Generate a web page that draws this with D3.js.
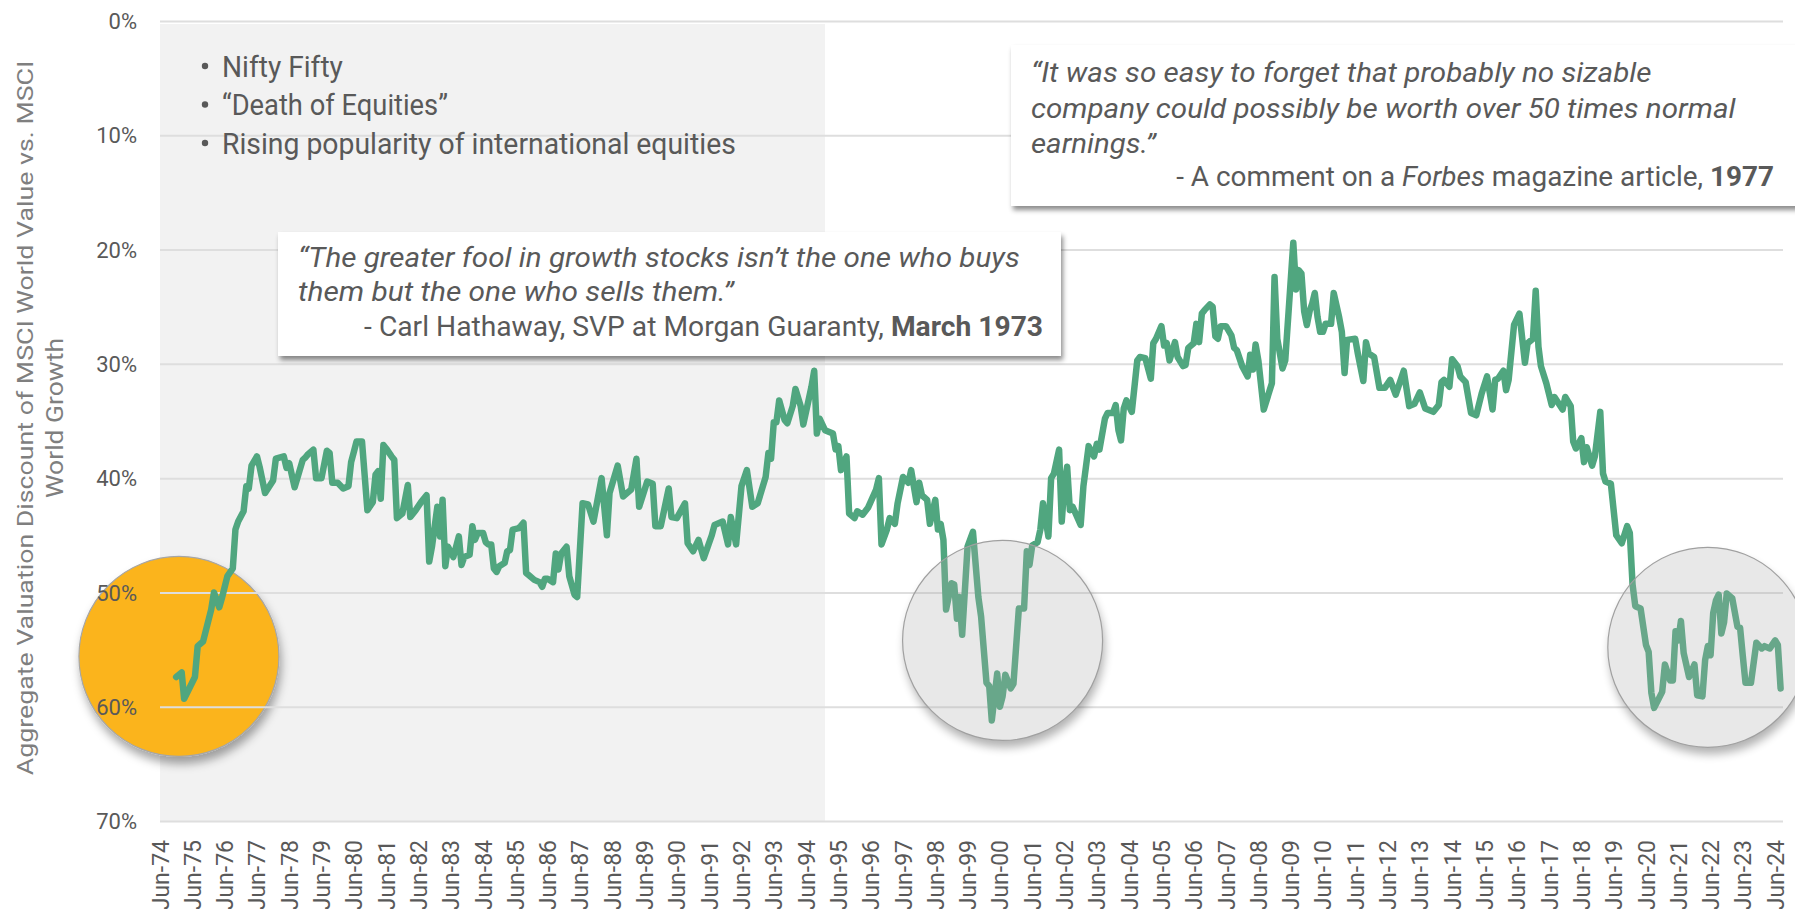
<!DOCTYPE html>
<html>
<head>
<meta charset="utf-8">
<script src="https://d3js.org/d3.v7.min.js"></script>
<style>
  body { margin: 0; background: #fff; }
  svg { display: block; font-family: Roboto, "Noto Sans", sans-serif; }
</style>
</head>
<body>
<script>
// y ticks (percent discount, axis is reversed: 0% at top)
var yTicks = [0, 10, 20, 30, 40, 50, 60, 70];
// x ticks: June of every year
var xTickYears = d3.range(1974, 2025);

// aggregate valuation discount, value vs growth
var discount = [
["1974-12",57.4],["1975-02",57.0],["1975-03",59.3],["1975-07",57.4],["1975-08",54.7],["1975-10",54.3],
["1976-01",51.5],["1976-02",50.0],["1976-04",51.3],["1976-05",50.5],["1976-07",48.6],["1976-09",47.9],["1976-10",44.5],["1976-11",43.8],
["1977-01",42.9],["1977-02",40.7],["1977-03",40.9],["1977-04",38.9],["1977-06",38.1],["1977-07",39.0],["1977-09",41.3],["1977-12",40.2],
["1978-01",38.3],["1978-04",38.1],["1978-05",39.1],["1978-06",38.7],["1978-08",40.8],["1978-09",40.0],["1978-11",38.4],["1978-12",38.2],
["1979-01",37.9],["1979-03",37.5],["1979-04",40.0],["1979-06",40.0],["1979-08",37.6],["1979-09",37.8],["1979-10",40.4],["1979-12",40.4],
["1980-02",40.9],["1980-04",40.7],["1980-05",38.6],["1980-06",37.7],["1980-07",36.8],["1980-09",36.8],["1980-11",42.8],
["1981-01",42.1],["1981-02",39.7],["1981-03",39.4],["1981-04",41.8],["1981-05",37.1],["1981-06",37.4],["1981-08",38.1],["1981-09",38.4],["1981-10",43.5],["1981-12",43.1],
["1982-02",40.6],["1982-03",43.4],["1982-05",42.8],["1982-07",42.1],["1982-09",41.5],["1982-10",47.3],["1982-11",46.0],
["1983-01",42.5],["1983-02",45.1],["1983-03",41.9],["1983-04",47.7],["1983-05",46.0],["1983-07",46.9],["1983-09",45.1],["1983-10",47.6],["1983-11",46.9],
["1984-01",46.7],["1984-02",44.2],["1984-03",45.4],["1984-04",44.8],["1984-06",44.8],["1984-07",45.6],["1984-08",45.8],["1984-09",45.8],["1984-10",47.9],["1984-11",48.2],["1984-12",47.7],
["1985-02",47.4],["1985-03",46.4],["1985-04",46.3],["1985-05",44.5],["1985-07",44.4],["1985-08",44.2],["1985-09",43.9],["1985-10",48.3],["1985-11",48.5],
["1986-01",48.9],["1986-03",49.1],["1986-04",49.5],["1986-05",48.8],["1986-06",48.8],["1986-08",49.1],["1986-09",46.6],["1986-10",48.0],["1986-11",46.6],
["1987-01",46.0],["1987-02",48.6],["1987-04",50.2],["1987-05",50.4],["1987-07",42.2],["1987-09",42.3],["1987-11",43.8],
["1988-02",40.0],["1988-04",45.0],["1988-05",41.3],["1988-08",38.9],["1988-10",41.6],
["1989-01",41.0],["1989-03",38.3],["1989-04",42.5],["1989-07",40.3],["1989-09",40.5],["1989-10",44.2],["1989-12",44.2],
["1990-03",40.9],["1990-04",43.4],["1990-06",43.5],["1990-09",42.2],["1990-10",45.7],["1990-12",46.4],
["1991-02",45.4],["1991-04",47.0],["1991-07",45.0],["1991-08",44.1],["1991-11",43.8],
["1992-01",45.8],["1992-02",43.4],["1992-04",45.8],["1992-06",40.7],["1992-08",39.3],["1992-10",42.5],["1992-12",42.2],
["1993-03",39.9],["1993-04",37.8],["1993-05",38.3],["1993-06",35.1],["1993-07",35.1],["1993-08",33.2],["1993-10",34.9],["1993-11",35.2],
["1994-01",33.7],["1994-02",32.2],["1994-04",33.7],["1994-05",35.3],["1994-08",32.0],["1994-09",30.6],["1994-10",36.1],["1994-11",34.8],
["1995-01",35.8],["1995-04",36.1],["1995-05",37.5],["1995-06",37.2],["1995-07",39.3],["1995-09",38.1],["1995-10",43.1],["1995-12",43.5],
["1996-01",42.9],["1996-03",43.2],["1996-05",42.6],["1996-08",41.0],["1996-09",40.0],["1996-10",45.8],["1996-12",44.5],
["1997-01",43.5],["1997-03",44.0],["1997-04",42.2],["1997-06",39.9],["1997-08",40.4],["1997-09",39.3],["1997-11",42.1],["1997-12",40.4],
["1998-01",41.5],["1998-03",41.9],["1998-04",44.0],["1998-06",41.9],["1998-07",44.5],["1998-08",44.0],["1998-09",45.4],["1998-10",51.5],["1998-12",49.2],
["1999-01",49.3],["1999-02",52.3],["1999-03",50.4],["1999-04",53.7],["1999-06",46.0],["1999-08",44.7],["1999-10",50.4],["1999-11",52.1],
["2000-01",57.9],["2000-02",58.2],["2000-03",61.2],["2000-05",57.1],["2000-06",60.0],["2000-07",59.1],["2000-08",57.2],["2000-10",58.4],["2000-11",58.0],
["2001-01",51.4],["2001-03",51.4],["2001-04",46.4],["2001-05",47.6],["2001-06",45.9],["2001-08",45.6],["2001-09",44.5],["2001-10",42.2],["2001-12",45.1],
["2002-01",40.0],["2002-02",39.6],["2002-04",37.5],["2002-05",43.8],["2002-06",40.5],["2002-07",39.0],["2002-08",42.8],["2002-09",42.5],["2002-12",44.1],
["2003-01",40.7],["2003-03",37.2],["2003-05",38.1],["2003-06",37.0],["2003-07",37.5],["2003-09",34.8],["2003-10",34.3],["2003-12",34.3],
["2004-01",33.6],["2004-02",35.8],["2004-03",36.7],["2004-04",33.9],["2004-05",33.2],["2004-07",34.2],["2004-09",29.7],["2004-10",29.4],["2004-12",29.5],
["2005-02",31.3],["2005-03",28.2],["2005-04",27.8],["2005-06",26.7],["2005-07",28.4],["2005-08",28.2],["2005-09",29.7],["2005-11",28.1],["2005-12",29.4],
["2006-02",30.2],["2006-03",30.1],["2006-04",28.6],["2006-06",28.2],["2006-07",26.5],["2006-08",28.1],["2006-09",25.6],["2006-10",25.3],["2006-12",24.8],
["2007-01",25.0],["2007-02",27.6],["2007-03",27.8],["2007-04",26.7],["2007-06",26.7],["2007-08",27.5],["2007-09",28.6],["2007-10",28.8],["2007-12",30.2],
["2008-02",31.1],["2008-03",29.2],["2008-04",30.5],["2008-05",28.3],["2008-06",29.7],["2008-08",34.0],["2008-11",31.7],["2008-12",22.4],
["2009-01",27.8],["2009-03",30.4],["2009-04",29.7],["2009-07",19.4],["2009-08",23.5],["2009-09",21.8],["2009-10",22.1],["2009-11",25.4],["2009-12",26.6],
["2010-01",25.4],["2010-02",24.7],["2010-03",23.8],["2010-04",25.9],["2010-05",27.2],["2010-06",27.2],["2010-07",26.5],["2010-09",26.5],["2010-10",23.8],["2010-12",25.9],
["2011-01",27.2],["2011-02",30.8],["2011-03",27.9],["2011-06",27.8],["2011-07",29.1],["2011-09",31.5],["2011-10",28.1],["2011-11",29.1],
["2012-01",29.4],["2012-03",32.1],["2012-05",32.1],["2012-07",31.4],["2012-09",32.7],["2012-12",30.6],
["2013-02",33.7],["2013-04",33.5],["2013-06",32.5],["2013-08",33.9],["2013-11",34.2],
["2014-01",33.6],["2014-02",31.6],["2014-03",31.4],["2014-05",32.0],["2014-06",29.6],["2014-08",30.2],["2014-09",31.1],["2014-11",31.6],
["2015-01",34.3],["2015-03",34.5],["2015-05",32.6],["2015-07",31.1],["2015-09",34.0],["2015-10",31.4],["2015-11",31.3],
["2016-01",30.6],["2016-02",32.3],["2016-03",31.4],["2016-05",26.6],["2016-07",25.6],["2016-09",29.9],["2016-10",28.2],["2016-12",27.8],
["2017-01",23.6],["2017-02",28.5],["2017-03",30.2],["2017-05",31.7],["2017-07",33.6],["2017-08",32.9],["2017-11",34.0],["2017-12",32.9],
["2018-02",33.7],["2018-03",36.8],["2018-04",37.4],["2018-06",36.5],["2018-07",38.6],["2018-08",37.3],["2018-10",38.9],["2018-11",38.1],
["2019-01",34.2],["2019-02",39.6],["2019-03",40.3],["2019-05",40.5],["2019-07",45.0],["2019-09",45.7],["2019-11",44.2],["2019-12",44.8],
["2020-01",49.3],["2020-02",51.2],["2020-04",51.4],["2020-06",54.6],["2020-07",55.2],["2020-08",58.8],["2020-09",60.1],["2020-12",58.7],
["2021-01",56.3],["2021-03",57.7],["2021-04",57.7],["2021-05",53.4],["2021-06",54.2],["2021-07",52.5],["2021-08",55.3],["2021-10",57.4],["2021-12",56.3],
["2022-01",59.0],["2022-03",59.1],["2022-04",55.9],["2022-05",54.7],["2022-06",55.5],["2022-07",51.8],["2022-08",50.7],["2022-09",50.2],["2022-10",53.6],["2022-11",52.6],["2022-12",50.1],
["2023-02",50.5],["2023-04",53.0],["2023-05",53.1],["2023-06",55.6],["2023-07",57.9],["2023-09",57.9],["2023-11",54.4],
["2024-01",54.9],["2024-02",54.7],["2024-04",54.9],["2024-06",54.2],["2024-07",54.6],["2024-08",58.4]
];

// shaded period and highlighted spots (date, discount)
var shadeEnd = "1995-01";
var highlights = [["1975-01", 55.6, "orange"], ["2000-07", 54.2, "grey"], ["2022-05", 54.8, "grey"]];

// annotation texts
var bullets = ["Nifty Fifty", "\u201CDeath of Equities\u201D", "Rising popularity of international equities"];
var quoteA = [
  [{t: "\u201CThe greater fool in growth stocks isn\u2019t the one who buys", i: 1}],
  [{t: "them but the one who sells them.\u201D", i: 1}],
  [{t: "- Carl Hathaway, SVP at Morgan Guaranty, "}, {t: "March 1973", b: 1}]
];
var quoteB = [
  [{t: "\u201CIt was so easy to forget that probably no sizable", i: 1}],
  [{t: "company could possibly be worth over 50 times normal", i: 1}],
  [{t: "earnings.\u201D", i: 1}],
  [{t: "- A comment on a "}, {t: "Forbes", i: 1}, {t: " magazine article, "}, {t: "1977", b: 1}]
];
var yTitle = ["Aggregate Valuation Discount of MSCI World Value vs. MSCI", "World Growth"];

var W = 1795, H = 909;
var left = 160, right = 1783;
var textColor = "#595959";

var parseMonth = d3.timeParse("%Y-%m");
var series = discount.map(function(d) { return {date: parseMonth(d[0]), v: d[1]}; });

var x = d3.scaleTime().domain([parseMonth("1974-06"), parseMonth("2024-08")]).range([left, 1780.6]);
var y = d3.scaleLinear().domain([0, 70]).range([21, 821]);

var svg = d3.select("body").append("svg").attr("width", W).attr("height", H);
var defs = svg.append("defs");

// shadows
var f1 = defs.append("filter").attr("id", "boxShadow").attr("x", "-10%").attr("y", "-20%").attr("width", "120%").attr("height", "150%");
f1.append("feDropShadow").attr("dx", 2).attr("dy", 4).attr("stdDeviation", 2.5).attr("flood-color", "#000").attr("flood-opacity", 0.45);
var f2 = defs.append("filter").attr("id", "circShadow").attr("x", "-30%").attr("y", "-30%").attr("width", "160%").attr("height", "160%");
f2.append("feDropShadow").attr("dx", 2).attr("dy", 7).attr("stdDeviation", 5).attr("flood-color", "#000").attr("flood-opacity", 0.35);
var f3 = defs.append("filter").attr("id", "blur").attr("x", "-30%").attr("y", "-30%").attr("width", "160%").attr("height", "160%");
f3.append("feGaussianBlur").attr("stdDeviation", 5);

// shaded period
svg.append("rect")
   .attr("x", x(parseMonth("1974-06")))
   .attr("y", y(0) + 3)
   .attr("width", x(parseMonth(shadeEnd)) - x(parseMonth("1974-06")))
   .attr("height", y(70) - y(0) - 3)
   .attr("fill", "#f2f2f2");

var R = 100;

// orange circle sits under the grid
highlights.filter(function(h) { return h[2] == "orange"; }).forEach(function(h) {
  svg.append("circle")
     .attr("cx", x(parseMonth(h[0]))).attr("cy", y(h[1])).attr("r", R)
     .attr("fill", "#fbb41d").attr("stroke", "#a6a6a6").attr("stroke-width", 1.2)
     .attr("filter", "url(#circShadow)");
});

// y axis + gridlines
var yAxis = svg.append("g")
   .attr("transform", "translate(" + left + ",0)")
   .call(d3.axisLeft(y).tickValues(yTicks).tickFormat(function(d) { return d + "%"; })
          .tickSize(-(right - left)).tickPadding(23));
yAxis.select(".domain").remove();
yAxis.selectAll(".tick line").attr("stroke", "#dedede").attr("stroke-width", 2);
yAxis.selectAll(".tick text").attr("fill", textColor).attr("font-size", 22).attr("font-family", "Roboto").attr("dy", "0.35em");

// x axis labels
var xAxis = svg.append("g")
   .attr("transform", "translate(0," + y(70) + ")")
   .call(d3.axisBottom(x).tickValues(xTickYears.map(function(yr) { return new Date(yr, 5, 1); }))
          .tickFormat(d3.timeFormat("%b-%y")).tickSize(0));
xAxis.select(".domain").remove();
xAxis.selectAll(".tick text")
   .attr("fill", textColor).attr("font-size", 23).attr("font-family", "Roboto")
   .attr("transform", "rotate(-90)")
   .attr("text-anchor", "end")
   .attr("x", -19).attr("y", 0).attr("dy", "0.35em");

// the series
var line = d3.line().x(function(d) { return x(d.date); }).y(function(d) { return y(d.v); });
svg.append("path")
   .datum(series)
   .attr("d", line)
   .attr("fill", "none")
   .attr("stroke", "#50a67f")
   .attr("stroke-width", 6.5)
   .attr("stroke-linejoin", "round")
   .attr("stroke-linecap", "round");

// translucent grey circles on top of the line
highlights.filter(function(h) { return h[2] == "grey"; }).forEach(function(h, i) {
  var cx = x(parseMonth(h[0])), cy = y(h[1]);
  var m = defs.append("mask").attr("id", "cm" + i).attr("maskUnits", "userSpaceOnUse")
              .attr("x", 0).attr("y", 0).attr("width", W).attr("height", H);
  m.append("rect").attr("width", W).attr("height", H).attr("fill", "#fff");
  m.append("circle").attr("cx", cx).attr("cy", cy).attr("r", R).attr("fill", "#000");
  svg.append("circle")
     .attr("cx", cx + 2).attr("cy", cy + 7).attr("r", R)
     .attr("fill", "#000").attr("opacity", 0.3)
     .attr("filter", "url(#blur)").attr("mask", "url(#cm" + i + ")");
  svg.append("circle")
     .attr("cx", cx).attr("cy", cy).attr("r", R)
     .attr("fill", "#aaaaaa").attr("fill-opacity", 0.27)
     .attr("stroke", "#a0a0a0").attr("stroke-width", 1.2);
});

// text line made of styled pieces, squeezed to a target width
function fitLine(g, segs, px, py, w, anchor, size, rotate) {
  var t = g.append("text")
           .attr("font-size", size).attr("fill", textColor)
           .attr("text-anchor", anchor).attr("dy", "0.35em");
  segs.forEach(function(s) {
    t.append("tspan").text(s.t)
     .attr("font-style", s.i ? "italic" : null)
     .attr("font-weight", s.b ? "bold" : null);
  });
  var k = w / t.node().getComputedTextLength();
  t.attr("transform", "translate(" + px + "," + py + ")" + (rotate ? " rotate(-90)" : "") + " scale(" + k + ",1)");
  return t;
}

// quote boxes
var boxA = svg.append("g");
boxA.append("rect").attr("x", 278).attr("y", 232).attr("width", 783).attr("height", 124)
    .attr("fill", "#fff").attr("filter", "url(#boxShadow)");
fitLine(boxA, quoteA[0], 298, 258, 722, "start", 27);
fitLine(boxA, quoteA[1], 298, 292, 436, "start", 27);
fitLine(boxA, quoteA[2], 1043, 327, 679, "end", 27);

var boxB = svg.append("g");
boxB.append("rect").attr("x", 1011).attr("y", 45).attr("width", 790).attr("height", 161)
    .attr("fill", "#fff").attr("filter", "url(#boxShadow)");
fitLine(boxB, quoteB[0], 1031, 73, 621, "start", 27);
fitLine(boxB, quoteB[1], 1031, 109, 705, "start", 27);
fitLine(boxB, quoteB[2], 1031, 144, 125, "start", 27);
fitLine(boxB, quoteB[3], 1774, 177, 598, "end", 27);

// bullets in the shaded period
var bulletWidths = [121, 226, 514];
var bl = svg.append("g");
bullets.forEach(function(b, i) {
  var cy = 66 + i * 38.5;
  bl.append("circle").attr("cx", 205).attr("cy", cy).attr("r", 3.2).attr("fill", textColor);
  fitLine(bl, [{t: b}], 222, cy, bulletWidths[i], "start", 30);
});

// y axis title
var tt = svg.append("g");
fitLine(tt, [{t: yTitle[0]}], 25, 418, 715, "middle", 23, true).attr("fill", "#7f7f7f");
fitLine(tt, [{t: yTitle[1]}], 55, 418, 160, "middle", 23, true).attr("fill", "#7f7f7f");
</script>
</body>
</html>
